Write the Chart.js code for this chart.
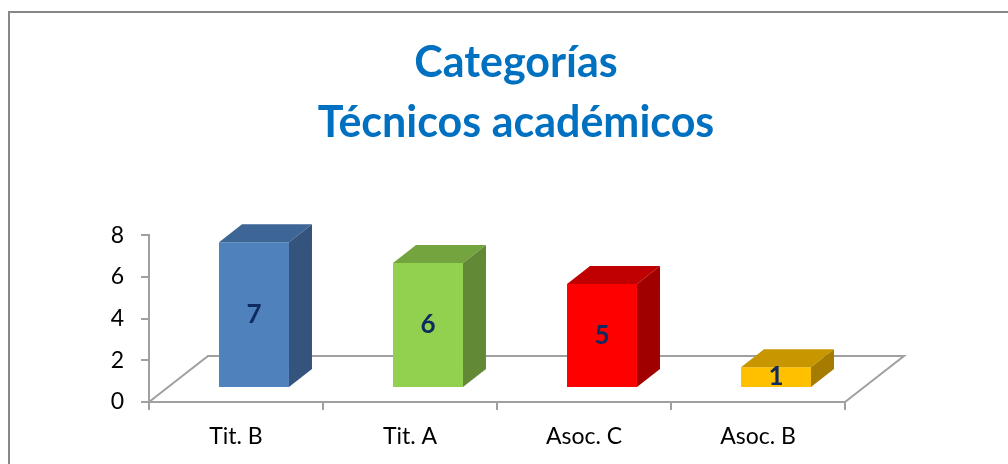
<!DOCTYPE html>
<html>
<head>
<meta charset="utf-8">
<script src="https://cdn.jsdelivr.net/npm/chart.js@4.4.0/dist/chart.umd.min.js"></script>
<style>
  body { margin: 0; background: #fff; }
  #wrap { width: 1008px; height: 464px; }
</style>
</head>
<body>
<div id="wrap"><canvas id="myChart" width="1008" height="464"></canvas></div>
<script>
const categories = ['Tit. B', 'Tit. A', 'Asoc. C', 'Asoc. B'];
const counts = [7, 6, 5, 1];
const yTicks = [0, 2, 4, 6, 8];

const frontColors = ['#4F81BD', '#92D050', '#FF0000', '#FFC000'];
const topColors = ['#3D6697', '#74A43E', '#C00000', '#C89700'];
const sideColors = ['#34547E', '#628A36', '#A00000', '#A67C00'];

// fake 3d: floor depth and where the bars sit inside it
const floorDx = 59, floorDy = 46;
const frontDx = 18, frontDy = 14;
const barDx = 23, barDy = 18;
const gridGrey = '#A0A0A0';

Chart.defaults.font.family = 'Lato';

const box3d = {
  id: 'box3d',
  beforeDraw(chart) {
    const c = chart.ctx;
    c.save();
    c.fillStyle = '#fff';
    c.fillRect(0, 0, chart.width, chart.height);
    c.strokeStyle = '#878787';
    c.lineWidth = 2;
    c.strokeRect(9, 12, chart.width + 20, chart.height + 20);
    c.restore();
  },
  beforeDatasetsDraw(chart) {
    const c = chart.ctx, a = chart.chartArea;
    c.save();
    c.strokeStyle = gridGrey;
    c.lineWidth = 2;
    c.beginPath();
    c.moveTo(a.left, a.bottom);
    c.lineTo(a.left + floorDx, a.bottom - floorDy);
    c.lineTo(a.right + floorDx, a.bottom - floorDy);
    c.lineTo(a.right, a.bottom);
    c.stroke();
    c.restore();
    // front faces are pushed back into the floor
    c.save();
    c.translate(frontDx, -frontDy);
  },
  afterDatasetsDraw(chart) {
    const c = chart.ctx;
    chart.getDatasetMeta(0).data.forEach((bar, i) => {
      const l = bar.x - bar.width / 2, r = bar.x + bar.width / 2;
      const t = bar.y, b = bar.base;
      c.fillStyle = topColors[i];
      c.beginPath();
      c.moveTo(l, t);
      c.lineTo(l + barDx, t - barDy);
      c.lineTo(r + barDx, t - barDy);
      c.lineTo(r, t);
      c.closePath();
      c.fill();
      c.fillStyle = sideColors[i];
      c.beginPath();
      c.moveTo(r, t);
      c.lineTo(r + barDx, t - barDy);
      c.lineTo(r + barDx, b - barDy);
      c.lineTo(r, b);
      c.closePath();
      c.fill();
      c.fillStyle = '#0F2A5E';
      c.font = 'bold 26px Lato';
      c.textAlign = 'center';
      c.textBaseline = 'middle';
      c.fillText(counts[i], bar.x, (t + b) / 2);
    });
    c.restore();
  }
};

const ctx = document.getElementById('myChart');

new Chart(ctx, {
  type: 'bar',
  data: {
    labels: categories,
    datasets: [{
      data: counts,
      backgroundColor: frontColors,
      barPercentage: 0.402,
      categoryPercentage: 1,
      clip: false
    }]
  },
  options: {
    responsive: false,
    animation: false,
    layout: { padding: { left: 30, right: 6, top: 0, bottom: 0 } },
    plugins: {
      legend: { display: false },
      tooltip: { enabled: false },
      title: {
        display: true,
        text: ['Categorías', 'Técnicos académicos'],
        color: '#0070C0',
        font: { family: 'Lato', size: 43, weight: 'bold', lineHeight: 1.4 },
        padding: { top: 33, bottom: 82 }
      }
    },
    scales: {
      x: {
        grid: { drawOnChartArea: false, color: gridGrey, lineWidth: 2, tickLength: 8 },
        border: { color: gridGrey, width: 2 },
        ticks: { color: '#000', font: { size: 23 }, padding: 13 },
        afterFit: s => { s.height = 62; }
      },
      y: {
        min: 0,
        max: 8,
        afterBuildTicks: s => { s.ticks = yTicks.map(v => ({ value: v })); },
        grid: { drawOnChartArea: false, color: gridGrey, lineWidth: 2, tickLength: 8 },
        border: { color: gridGrey, width: 2 },
        ticks: { color: '#000', font: { size: 23 }, padding: 17 },
        afterFit: s => { s.width = 119; }
      },
      y2: {
        type: 'linear',
        position: 'right',
        grid: { display: false },
        border: { display: false },
        ticks: { display: false },
        afterFit: s => { s.width = 157; }
      }
    }
  },
  plugins: [box3d]
});
</script>
</body>
</html>
